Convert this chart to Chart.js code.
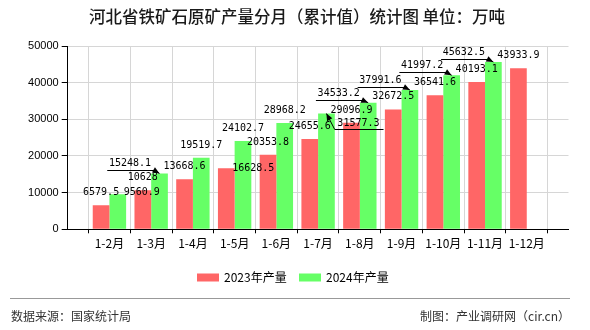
<!DOCTYPE html>
<html><head><meta charset="utf-8">
<script src="https://cdn.jsdelivr.net/npm/chart.js@4"></script>
<style>html,body{margin:0;padding:0;background:#fff;}canvas{display:block;}</style>
</head><body>
<canvas id="c" width="590" height="330"></canvas>
<script>
const chartTitle = '河北省铁矿石原矿产量分月（累计值）统计图 单位：万吨';
const categories = ['1-2月','1-3月','1-4月','1-5月','1-6月','1-7月','1-8月','1-9月','1-10月','1-11月','1-12月'];
const output2023 = [6579.5, 10628, 13668.6, 16628.5, 20353.8, 24655.6, 29096.9, 32672.5, 36541.6, 40193.1, 43933.9];
const output2024 = [9560.9, 15248.1, 19519.7, 24102.7, 28968.2, 31577.3, 34533.2, 37991.6, 41997.2, 45632.5, null];
const seriesNames = ['2023年产量', '2024年产量'];
const yTickValues = [0, 10000, 20000, 30000, 40000, 50000];
const sourceText = '数据来源：国家统计局';
const creditText = '制图：产业调研网（cir.cn）';

// label placement styles (datasetIndex-categoryIndex)
const labelPlacement = {
  '1-0': {shift: [24, -1.5]},
  '0-3': {shift: [27, 0]},
  '1-1': {leader: 'left'},
  '1-5': {leader: 'right'},
  '1-6': {leader: 'left'},
  '1-7': {leader: 'left'},
  '1-8': {leader: 'left'},
  '1-9': {leader: 'left'}
};

const colors = ['#ff6666', '#66ff66'];
const labels = [''].concat(categories, ['']);
const pad = arr => [null].concat(arr, [null]);

const CJK = '"Noto Sans CJK SC", "Noto Sans", sans-serif';
const MONO = '"DejaVu Sans Mono", monospace';

function arrow(ctx, x0, y0, x1, y1) {
  const dx = x1 - x0, dy = y1 - y0, L = Math.hypot(dx, dy) || 1;
  const ux = dx / L, uy = dy / L, len = 7, hw = 3;
  const bx = x1 - ux * len, by = y1 - uy * len;
  ctx.beginPath();
  ctx.moveTo(x1, y1);
  ctx.lineTo(bx - uy * hw, by + ux * hw);
  ctx.lineTo(bx + uy * hw, by - ux * hw);
  ctx.closePath();
  ctx.fill();
}

const decorPlugin = {
  id: 'decor',
  afterDraw(chart) {
    const ctx = chart.ctx;
    ctx.save();
    // title
    ctx.fillStyle = '#1a1a1a';
    ctx.font = '500 16.5px ' + CJK;
    ctx.textAlign = 'center';
    ctx.textBaseline = 'middle';
    ctx.fillText(chartTitle, 297, 17);

    // data labels
    ctx.font = '10px ' + MONO;
    ctx.fillStyle = '#000';
    ctx.strokeStyle = '#000';
    ctx.lineWidth = 1;
    chart.data.datasets.forEach((ds, di) => {
      const meta = chart.getDatasetMeta(di);
      meta.data.forEach((bar, i) => {
        const v = ds.data[i];
        if (v === null || v === undefined) return;
        const ci = i - 1;
        const txt = String(v);
        const w = ctx.measureText(txt).width;
        const p = labelPlacement[di + '-' + ci];
        const x = bar.x, top = bar.y;
        ctx.textAlign = 'center';
        ctx.textBaseline = 'middle';
        if (!p) {
          ctx.fillText(txt, x, top - 12.7);
        } else if (p.shift) {
          ctx.fillText(txt, x + p.shift[0], top + p.shift[1]);
        } else if (p.leader === 'left') {
          const tx = x - 29.5, ty = top - 9.7;
          ctx.fillText(txt, tx, ty);
          const uy = Math.round(top - 3.2) + 0.5;
          const ex = x - 5;
          ctx.beginPath();
          ctx.moveTo(tx - w / 2 - 1.7, uy);
          ctx.lineTo(ex, uy);
          ctx.lineTo(x, top);
          ctx.stroke();
          arrow(ctx, ex, uy, x, top);
        } else if (p.leader === 'right') {
          const tx = x + 32, ty = top + 9.7;
          ctx.fillText(txt, tx, ty);
          const uy = Math.round(top + 15.8) + 0.5;
          const sx = x + 8.3;
          ctx.beginPath();
          ctx.moveTo(tx + w / 2 + 4, uy);
          ctx.lineTo(sx, uy);
          ctx.lineTo(x, top);
          ctx.stroke();
          arrow(ctx, sx, uy, x, top);
        }
      });
    });

    // legend
    ctx.font = '12px ' + CJK;
    ctx.textAlign = 'left';
    ctx.textBaseline = 'middle';
    let lx = 197;
    chart.data.datasets.forEach((ds, di) => {
      ctx.fillStyle = ds.backgroundColor;
      ctx.fillRect(lx, 273.5, 22, 8);
      ctx.fillStyle = '#000';
      ctx.fillText(ds.label, lx + 27, 277.5);
      lx += 102;
    });

    // footer
    ctx.strokeStyle = '#999';
    ctx.lineWidth = 1;
    ctx.beginPath();
    ctx.moveTo(10, 298.5);
    ctx.lineTo(570, 298.5);
    ctx.stroke();
    ctx.fillStyle = '#333';
    ctx.font = '12px ' + CJK;
    ctx.textBaseline = 'middle';
    ctx.textAlign = 'left';
    ctx.fillText(sourceText, 11, 316);
    ctx.textAlign = 'right';
    ctx.fillText(creditText, 570, 316);
    ctx.restore();
  }
};

new Chart(document.getElementById('c'), {
  type: 'bar',
  data: {
    labels: labels,
    datasets: [
      {label: seriesNames[0], data: pad(output2023), backgroundColor: colors[0]},
      {label: seriesNames[1], data: pad(output2024), backgroundColor: colors[1]}
    ]
  },
  options: {
    responsive: false,
    devicePixelRatio: 1,
    animation: false,
    events: [],
    layout: {padding: {top: 46, right: 21.5, left: 0, bottom: 0}},
    datasets: {bar: {categoryPercentage: 0.8, barPercentage: 1.0, borderWidth: 0}},
    plugins: {legend: {display: false}, title: {display: false}, tooltip: {enabled: false}},
    scales: {
      x: {
        type: 'category',
        offset: false,
        grid: {color: '#d6d6d6', tickColor: '#000', tickLength: 4, drawTicks: true},
        border: {color: '#000', width: 1},
        ticks: {autoSkip: false, maxRotation: 0, minRotation: 0, padding: 3, color: '#000',
                font: {family: CJK, size: 12}},
        afterFit: s => { s.height = 100.7; }
      },
      y: {
        min: 0, max: 50000,
        afterBuildTicks: s => { s.ticks = yTickValues.map(v => ({value: v})); },
        grid: {color: '#d6d6d6', tickColor: '#000', tickLength: 6},
        border: {color: '#000', width: 1},
        ticks: {padding: 3, color: '#000', font: {family: '"Liberation Sans", sans-serif', size: 11},
                callback: v => String(v)},
        afterFit: s => { s.width = 67.7; }
      }
    }
  },
  plugins: [decorPlugin]
});
</script>
</body></html>
